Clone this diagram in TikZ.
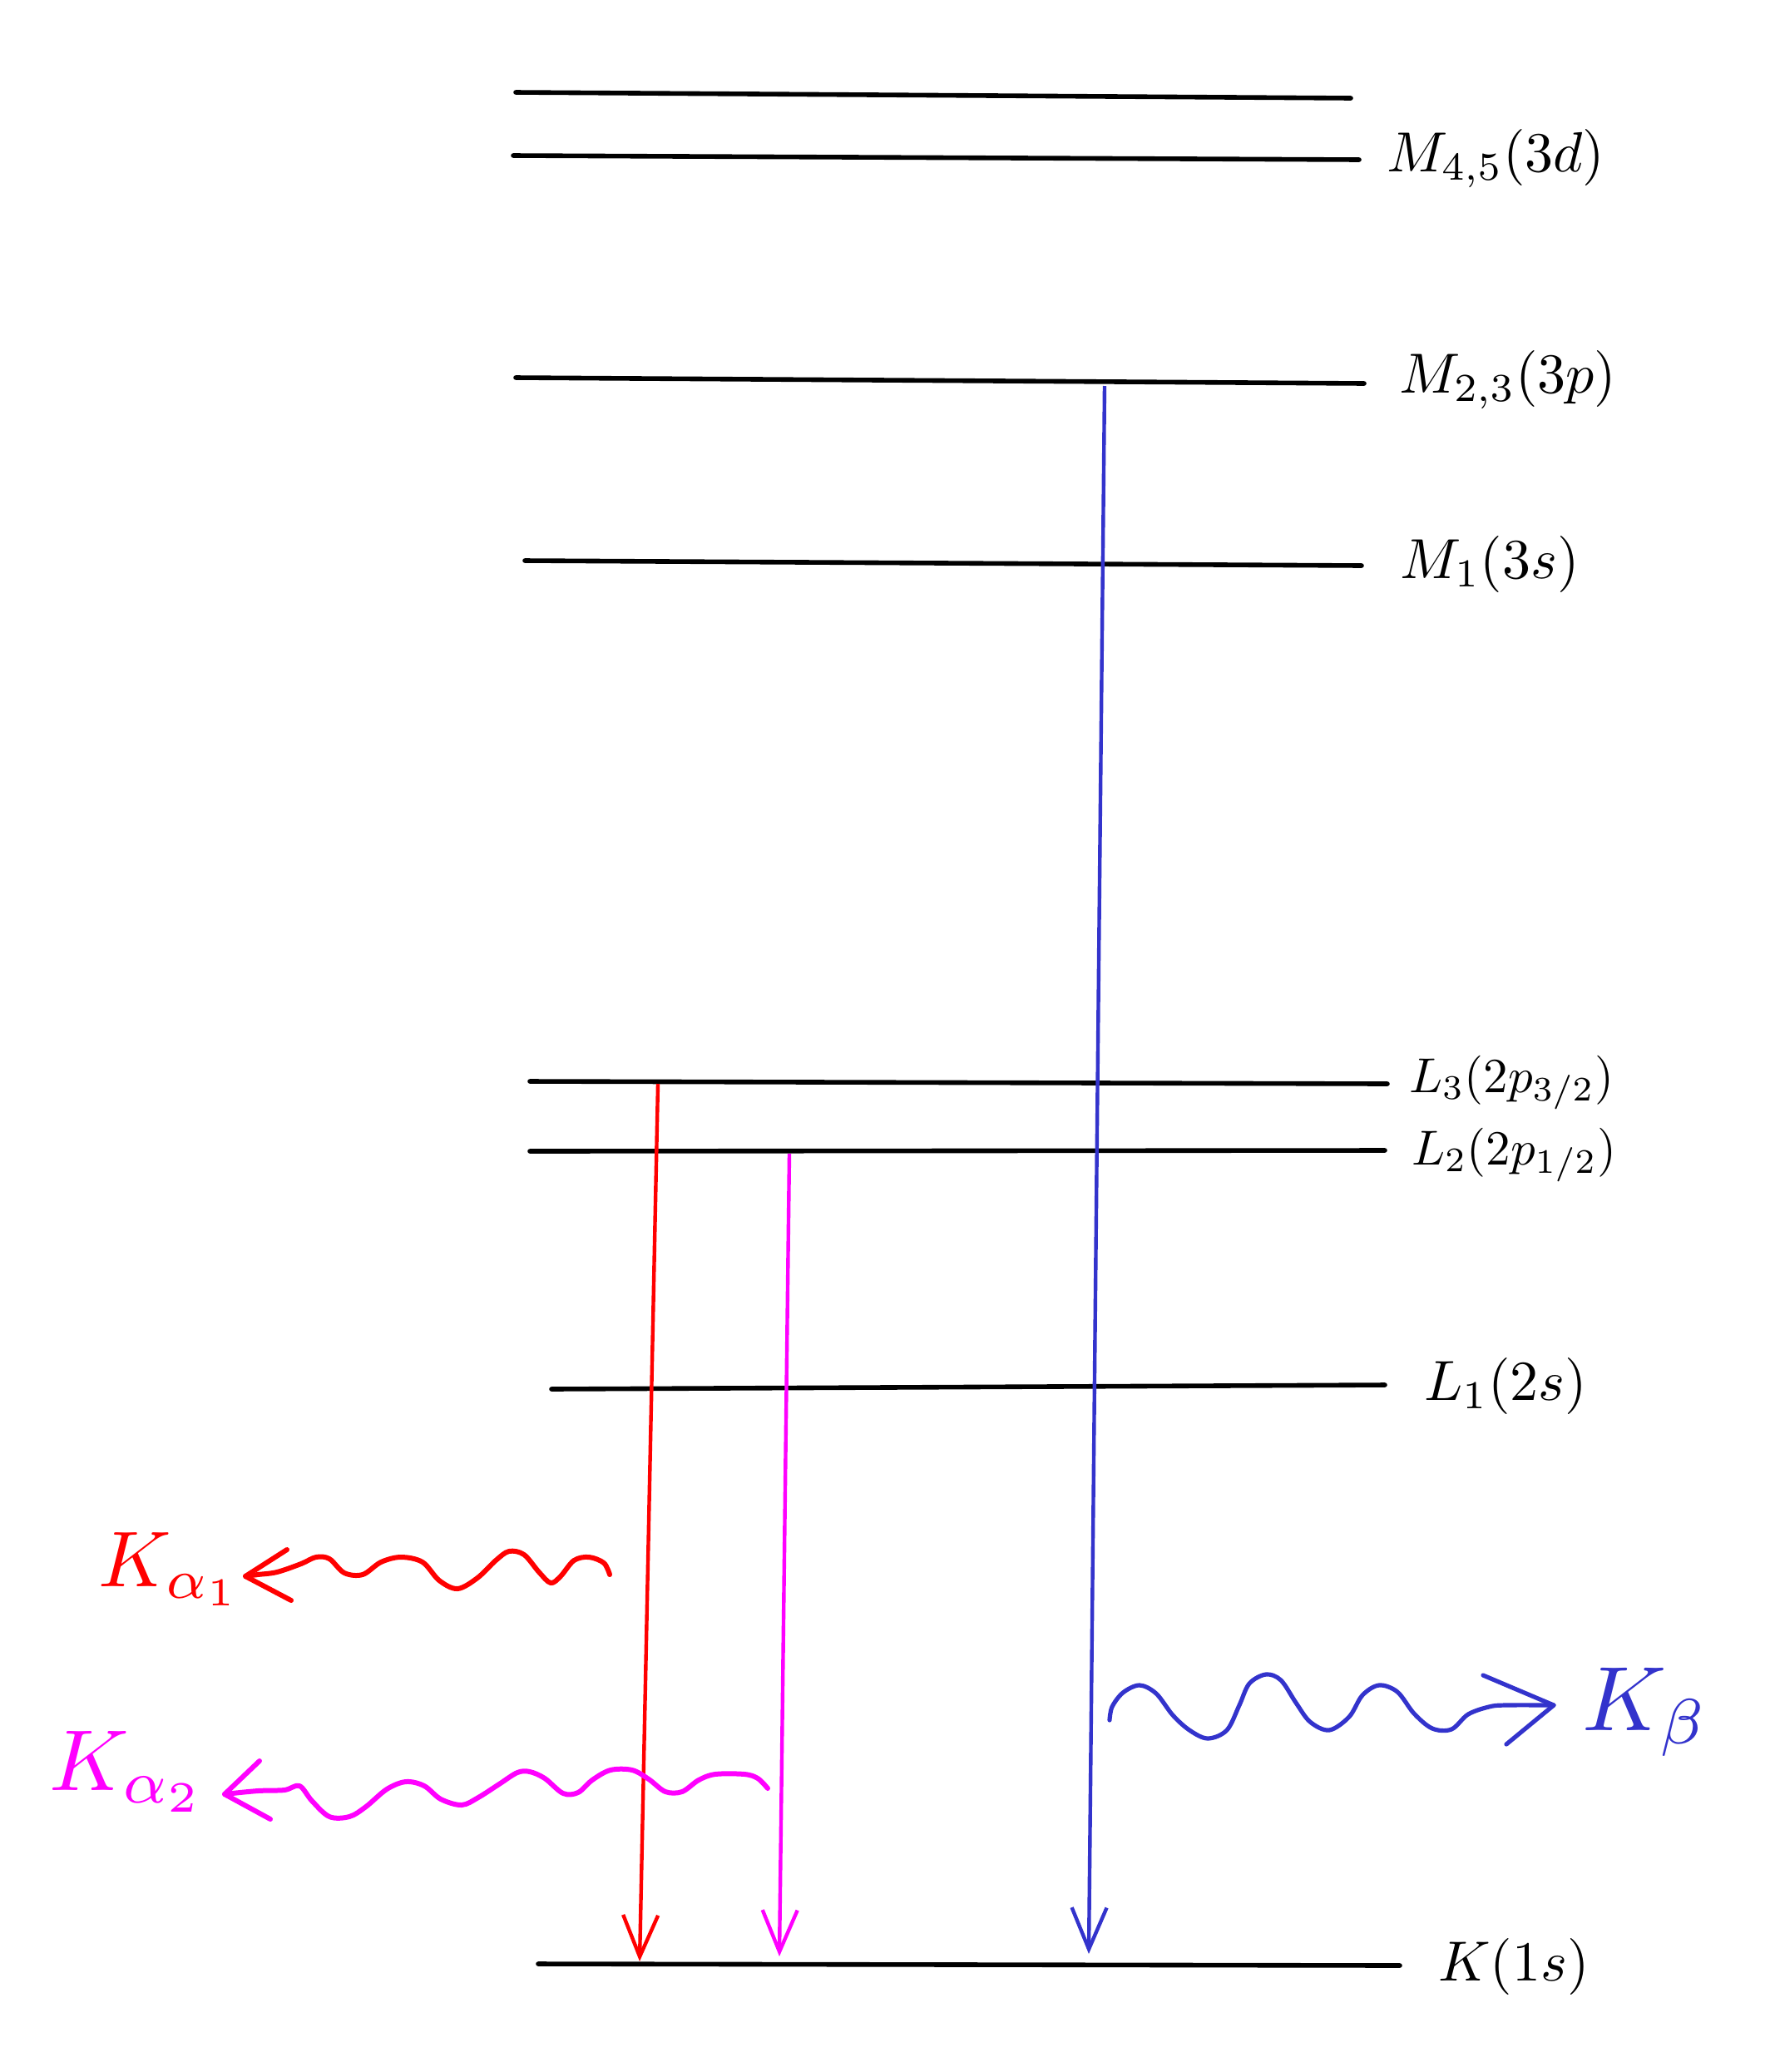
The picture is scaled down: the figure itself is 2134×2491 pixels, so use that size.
\documentclass[tikz,border=0pt]{standalone}
\usetikzlibrary{arrows.meta}
\definecolor{kred}{RGB}{255,0,0}
\definecolor{kmag}{RGB}{255,0,255}
\definecolor{kblue}{RGB}{51,51,204}
\begin{document}
\begin{tikzpicture}[x=0.5pt,y=-0.5pt,
  level/.style={line width=2.8pt, line cap=round},
  lab/.style={anchor=base west, inner sep=0pt, scale=3.4},
  smalllab/.style={anchor=base west, inner sep=0pt, scale=2.95},
  trans/.style={line width=2.2pt, -{Straight Barb[length=25pt,width=21pt]}},
  wave/.style={line width=3pt, line cap=round, line join=round},
]
\useasboundingbox (0,0) rectangle (2134,2491);

% level end points
\coordinate (T0a) at (620,111);  \coordinate (T0b) at (1624,118);
\coordinate (M45a) at (617,187); \coordinate (M45b) at (1634,192);
\coordinate (M23a) at (620,454); \coordinate (M23b) at (1640,461);
\coordinate (M1a) at (631,674);  \coordinate (M1b) at (1637,680);
\coordinate (L3a) at (637,1300); \coordinate (L3b) at (1668,1303);
\coordinate (L2a) at (637,1384); \coordinate (L2b) at (1665,1383);
\coordinate (L1a) at (663,1670); \coordinate (L1b) at (1665,1665);
\coordinate (Ka) at (647,2361);  \coordinate (Kb) at (1683,2363);

\draw[level] (T0a) -- (T0b);
\draw[level] (M45a) -- (M45b);
\draw[level] (M23a) -- (M23b);
\draw[level] (M1a) -- (M1b);
\draw[level] (L3a) -- (L3b);
\draw[level] (L2a) -- (L2b);
\draw[level] (L1a) -- (L1b);
\draw[level] (Ka) -- (Kb);

% labels
\node[lab] (lM45) at (1666,206) {$M_{4,5}(3d)$};
\node[lab] (lM23) at (1681,472) {$M_{2,3}(3p)$};
\node[lab] (lM1) at (1682,695) {$M_1(3s)$};
\node[smalllab] (lL3) at (1693,1313) {$L_3(2p_{3/2})$};
\node[smalllab] (lL2) at (1696,1400) {$L_2(2p_{1/2})$};
\node[lab] (lL1) at (1711,1683) {$L_1(2s)$};
\node[lab] (lK) at (1728,2381) {$K(1s)$};

% transitions
\coordinate (rs) at (791,1303); \coordinate (re) at (769,2358);
\coordinate (ms) at (949,1387); \coordinate (me) at (937,2352);
\coordinate (bs) at (1328,464); \coordinate (be) at (1309,2349);
\draw[trans, kred] (rs) -- (re);
\draw[trans, kmag] (ms) -- (me);
\draw[trans, kblue] (bs) -- (be);

% K alpha 1 photon
\coordinate (ra1) at (295,1895);
\draw[wave, kred] plot[smooth, tension=0.55] coordinates {
 (733,1893) (726,1879) (708,1872) (690,1876) (674,1895) (662,1903) (648,1890) (630,1869) (612,1865) (596,1876) (574,1897) (550,1910) (528,1900) (508,1878) (482,1872) (458,1878) (436,1893) (414,1891) (396,1874) (380,1872) (362,1880) (333,1890) (310,1893) (ra1)};
\draw[wave, kred] (345,1863) -- (ra1) -- (350,1924);
\node[inner sep=0pt, anchor=base west, text=kred, scale=4.75] (kA1) at (117,1907) {$K_{\alpha_1}$};

% K alpha 2 photon
\coordinate (ma1) at (270,2157);
\draw[wave, kmag] plot[smooth, tension=0.55] coordinates {
 (923,2150) (911,2138) (895,2133) (860,2133) (840,2140) (820,2154) (800,2154) (780,2139) (760,2128) (734,2128) (712,2140) (695,2155) (677,2156) (655,2138) (637,2130) (622,2131) (600,2145) (575,2161) (555,2170) (530,2163) (510,2147) (488,2142) (465,2151) (440,2172) (420,2184) (396,2184) (375,2165) (360,2147) (342,2152) (310,2153) (ma1)};
\draw[wave, kmag] (312,2117) -- (ma1) -- (325,2187);
\node[inner sep=0pt, anchor=base west, text=kmag, scale=5.2] (kA2) at (57,2152) {$K_{\alpha_2}$};

% K beta photon
\coordinate (ba1) at (1868,2050);
\draw[wave, kblue, line width=2.6pt] plot[smooth, tension=0.55] coordinates {
 (1334,2068) (1337,2052) (1350,2035) (1370,2026) (1390,2036) (1410,2062) (1430,2080) (1452,2090) (1475,2080) (1490,2050) (1502,2024) (1522,2013) (1540,2020) (1558,2047) (1575,2070) (1598,2080) (1622,2064) (1638,2038) (1658,2026) (1680,2034) (1700,2060) (1722,2078) (1745,2079) (1765,2061) (1790,2052) (1810,2050) (ba1)};
\draw[wave, kblue, line width=2.6pt] (1783,2014) -- (ba1) -- (1811,2097);
\node[inner sep=0pt, anchor=base west, text=kblue, scale=5.5] (kB) at (1900,2080) {$K_\beta$};
\end{tikzpicture}
\end{document}
